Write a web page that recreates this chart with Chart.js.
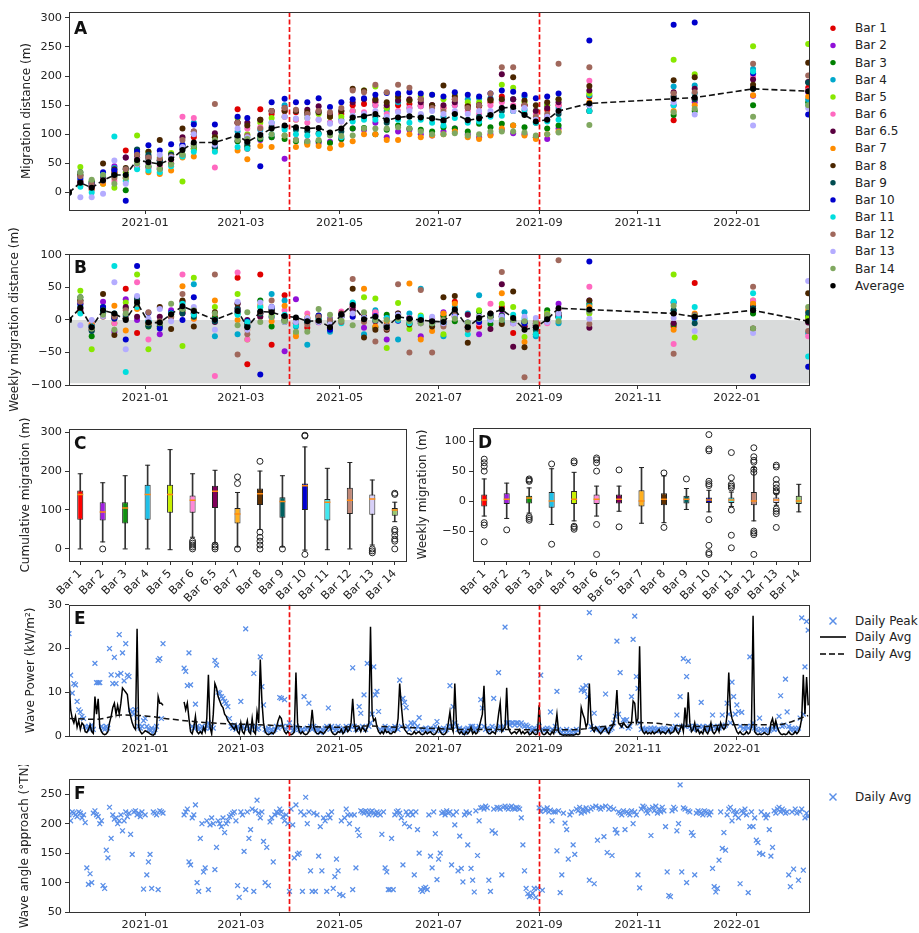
<!DOCTYPE html>
<html>
<head>
<meta charset="utf-8">
<title>Bar migration and wave conditions</title>
<script src="https://cdn.jsdelivr.net/npm/chart.js@4.4.1/dist/chart.umd.min.js"></script>
<style>
  html,body{margin:0;padding:0;background:#ffffff;}
  body{position:relative;width:919px;height:933px;overflow:hidden;font-family:'DejaVu Sans',sans-serif;}
  canvas{position:absolute;}
  .leg{position:absolute;font-size:12px;line-height:16px;color:#222;white-space:nowrap;}
  svg.marks{position:absolute;left:0;top:0;}
</style>
</head>
<body>
<svg class="marks" id="marks" width="919" height="933"></svg>
<script>
// ---------------- shared categories / axes ----------------
const surveyDays = [-47, -40, -33, -26, -19, -12, -5, 2, 9, 16, 23, 30, 43, 57, 63, 71, 78, 86, 93, 100, 107, 114, 121, 128, 135, 142, 149, 156, 163, 170, 177, 184, 191, 199, 206, 213, 220, 227, 234, 241, 248, 255, 274, 326, 339, 375, 409];
const barNames = ['Bar 1','Bar 2','Bar 3','Bar 4','Bar 5','Bar 6','Bar 6.5','Bar 7','Bar 8','Bar 9','Bar 10','Bar 11','Bar 12','Bar 13','Bar 14'];
const barColors = ['#e00000','#9010d8','#008000','#00a8cc','#88e800','#ff69c0','#5a0040','#ff8c00','#4a2600','#004c50','#0000cc','#00dede','#a0685c','#b4acff','#80a860'];
const boxColors = ['#ff0000','#a020e0','#109010','#20c0e8','#c8f000','#ff88d8','#80005a','#ffb020','#603000','#006060','#0000d0','#40e8f0','#c08878','#d8d0f8','#98c870'];
const xTickDays = [0, 59, 120, 181, 243, 304, 365];
const xTickLabels = ['2021-01','2021-03','2021-05','2021-07','2021-09','2021-11','2022-01'];
const eventDays = [89, 243];
const xMinDay = -47, xMaxDay = 409.5;

// ---------------- Panel A: cumulative migration (m) ----------------
const cumBar1 = [0,20,10,25,35,72,60,58,55,65, 80,95,78,143,75,143,135,140,138,135, 140,130,135,150,152,155,145,150,152,150, 148,145,160,150,148,155,165,160,150,140, 142,150,165,124,160,180,180];
const cumBar2 = [0,15,5,18,45,60,45,42,40,50, 62,75,78,88,80,90,95,58,90,88, 85,87,92,110,108,120,95,105,108,100, 98,105,110,100,95,100,108,102,100,95, 92,110,140,150,155,166,172];
const cumBar3 = [0,30,18,25,28,4,55,45,42,50, 65,75,78,88,80,92,95,92,88,85, 88,85,92,110,111,100,108,115,110,108, 105,112,110,105,118,112,118,115,112,95, 110,115,140,133,140,150,155];
const cumBar4 = [0,22,12,32,42,30,60,58,52,62, 80,120,78,105,95,108,120,150,140,135, 138,120,125,140,135,150,140,155,145,148, 150,130,150,160,162,162,158,160,165,140, 150,145,167,182,184,212,160];
const cumBar5 = [0,44,20,15,8,35,98,70,60,68, 19,75,95,128,100,120,128,130,125,128, 135,130,130,140,175,182,145,160,158,165, 168,160,170,155,155,160,185,180,155,140, 150,160,170,228,203,251,255];
const cumBar6 = [0,15,10,25,20,25,58,50,45,55, 130,128,43,120,110,112,115,130,125,120, 125,120,122,140,138,150,135,140,145,148, 150,145,150,140,135,150,155,150,140,135, 130,150,192,165,170,200,175];
const cumBar65 = [0,18,10,28,32,60,65,62,55,60, 95,105,102,120,120,125,140,145,140,142, 148,135,140,155,160,158,150,158,160,155, 150,150,155,145,150,160,203,160,150,140, 145,155,175,172,178,194,190];
const cumBar7 = [0,12,5,15,35,25,42,35,32,38, 60,62,72,72,57,80,78,98,78,82, 80,76,82,88,100,100,90,90,100,95, 98,100,105,95,92,98,110,115,98,92, 100,105,155,140,150,167,165];
const cumBar8 = [0,30,15,50,40,42,73,70,90,65, 110,100,95,120,115,125,140,140,140,138, 138,130,140,178,175,160,155,165,158,160, 150,184,165,148,150,158,160,198,158,150, 155,160,183,193,198,185,223];
const cumBar9 = [0,35,18,30,32,40,74,65,55,65, 75,80,78,95,85,95,112,112,108,105, 102,100,105,130,130,130,120,128,130,132, 128,122,136,125,130,135,140,140,135,120, 125,135,150,165,160,178,189];
const cumBar10 = [0,25,15,35,38,-14,70,81,72,83, 82,117,117,130,128,45,155,161,155,155, 162,147,155,160,162,168,171,170,172,170, 168,165,172,168,165,170,175,173,168,162, 165,170,261,288,292,205,134];
const cumBar11 = [0,10,0,30,96,20,40,38,35,45, 62,70,70,78,75,95,100,108,100,98, 100,100,95,122,125,125,125,125,120,125, 120,115,128,120,122,130,132,140,142,120, 122,125,140,150,170,208,150];
const cumBar12 = [0,28,15,20,25,40,65,60,58,62, 90,105,152,120,98,110,140,145,142,135, 140,138,145,175,172,185,172,185,180,160, 145,140,160,145,150,170,215,215,150,130, 135,221,215,170,172,221,201];
const cumBar13 = [0,-8,-8,-2,55,15,48,50,65,60, 78,100,82,110,95,100,120,130,127,128, 125,118,122,132,135,140,130,138,140,135, 140,135,140,135,140,140,145,140,145,125, 130,140,150,155,134,115,145];
const cumBar14 = [0,35,22,30,15,25,50,45,40,48, 65,80,90,90,92,95,100,98,90,88, 90,98,97,98,110,110,110,112,110,105, 100,100,102,98,100,105,105,105,103,98, 100,103,116,138,144,130,150];
const cumAverage = [0,17,8,21,30,30,56,52,49,57, 73,86,86,98,87,99,110,115,112,110, 111,103,110,129,131,135,124,129,131,129, 127,124,135,124,127,133,145,147,133,122, 125,140,153,161,163,178,174];
const cumSeries = [cumBar1,cumBar2,cumBar3,cumBar4,cumBar5,cumBar6,cumBar65,cumBar7,cumBar8,cumBar9,cumBar10,cumBar11,cumBar12,cumBar13,cumBar14];

// ---------------- Panel B: weekly migration (m) ----------------
const wkBar1 = [0,25,-10,15,8,48,-20,-5,-3,10, 12,15,5,65,-68,70,-38,38,-5,-12, 5,-10,8,20,5,8,-10,5,3,-2, -3,5,28,-10,-10,5,20,-20,-10,-8, 3,8,15,-10,57,20,0];
const wkBar2 = [0,15,-15,28,-18,32,0,-8,-22,15, 10,12,2,25,-8,10,5,-48,32,-3, -3,2,5,20,-12,12,-30,10,3,-25, -2,12,5,-12,-22,5,8,-5,-2,-5, -3,25,30,10,5,11,6];
const wkBar3 = [0,30,-25,10,5,18,25,-10,-3,8, 15,10,3,10,-8,30,-10,-3,-4,-3, 3,-3,7,18,1,-11,8,7,-5,-2, -3,7,-2,-5,13,-6,6,-3,-3,-22, 15,5,25,-7,7,10,5];
const wkBar4 = [0,22,-10,20,10,5,30,-2,-6,10, 18,55,-25,-22,-10,13,40,30,-10,-38, 3,-18,5,15,-22,15,-10,-30,10,48, 2,-25,20,10,38,0,-4,2,12,-25, 10,-5,22,15,2,28,-20];
const wkBar5 = [0,45,-45,20,-5,27,70,-45,-10,8, -40,65,20,40,-30,20,8,2,-20,3, 7,-5,0,10,35,33,-43,26,-14,7, 3,-22,10,-15,15,5,25,20,-26,-15, 10,10,10,70,-27,30,4];
const wkBar6 = [0,15,-5,15,-5,5,58,-30,-5,10, 70,2,-86,73,-30,5,3,15,-5,10, -4,0,13,18,0,12,-15,5,3,3, 2,-5,5,-10,-5,25,5,-5,-10,-5, -5,16,51,-37,5,30,-25];
const wkBar65 = [0,18,-8,18,4,20,5,-3,5,5, 28,10,-3,18,0,5,15,5,-5,2, 6,-13,5,15,5,-2,-8,8,2,-5, -5,0,5,8,5,-14,55,-41,-10,-10, 5,10,-12,-5,6,22,-4];
const wkBar7 = [0,12,-7,10,22,-16,17,-7,-3,6, 52,2,30,0,-15,23,-2,22,-25,4, -2,-4,6,6,48,-10,-2,0,56,-30, -17,10,25,-10,-3,6,41,5,-34,-6, 8,5,20,-15,10,25,15];
const wkBar8 = [0,30,-15,40,-23,2,31,-3,20,-14, 30,-10,12,25,-5,10,15,0,0,-2, 0,-8,10,48,-27,-15,-15,10,-7,2, -10,35,37,-35,2,8,-6,44,-42,-8, 5,5,30,10,5,-13,41];
const wkBar9 = [0,35,-17,12,2,8,34,-9,-10,10, 10,5,-2,17,-10,10,17,0,-4,-3, -3,-2,5,25,0,0,-10,8,2,2, -4,-6,14,-11,5,5,5,0,-5,-15, 5,10,15,15,-5,18,11];
const wkBar10 = [0,25,-10,20,3,-30,83,11,-13,11, 0,35,0,13,-2,-84,20,6,-6,0, 7,-15,8,5,2,6,3,-1,2,-2, -2,-3,7,-4,-3,5,5,-2,-5,-6, 3,5,90,27,4,-87,-72];
const wkBar11 = [0,10,-10,15,83,-80,20,-2,-3,10, 25,8,0,8,-3,20,5,8,-8,-2, 2,0,-5,27,3,0,3,0,-5,5, -5,-5,13,-22,2,8,2,8,2,-22, 2,3,15,28,20,41,-56];
const wkBar12 = [0,28,-13,5,5,15,25,12,-2,4, 40,15,70,-53,-22,12,30,5,-3,-7, 5,0,-3,63,-3,-33,-13,55,-50,46, -50,-10,13,-15,5,10,74,0,-88,-2, 5,92,-6,-52,8,51,-17];
const wkBar13 = [0,-8,0,6,58,-45,37,2,17,-2, 18,20,-15,28,-15,27,20,-3,-3,3, -3,-7,4,10,3,5,-10,8,2,-5, 5,-5,5,-5,5,0,5,-5,5,3, -3,10,2,3,-17,-20,60];
const wkBar14 = [0,35,-13,8,-15,10,25,-5,-5,25, 17,15,10,-8,12,-3,5,-2,-18,-18, 17,8,-1,-8,12,0,0,2,-2,-5, -5,0,2,-4,2,5,0,0,-2,-5, 8,-2,13,22,6,-13,20];
const wkAverage = [0,19,-11,15,10,0,27,-4,-4,9, 21,14,0,14,-11,13,12,6,4,-2, -1,-11,8,23,1,5,-11,5,2,0, -2,-3,16,-11,3,10,16,3,-15,-11, 1,18,16,10,5,15,-2];
const wkSeries = [wkBar1,wkBar2,wkBar3,wkBar4,wkBar5,wkBar6,wkBar65,wkBar7,wkBar8,wkBar9,wkBar10,wkBar11,wkBar12,wkBar13,wkBar14];
const bandDays = [-47, 396, 409.5];
const bandTop = [0, 0, -2.5];
const bandFloor = -97.5;

// ---------------- Panel C: cumulative migration box statistics ----------------
const cumQ1 = [75,73,65,75,93,93,105,65,113,80,100,73,90,88,85];
const cumQ3 = [150,120,120,165,165,137,162,105,155,133,168,128,157,140,105];
const cumMedian = [140,95,105,140,140,125,148,90,142,122,162,120,125,128,100];
const cumWhiskerLo = [0,18,0,0,-2,30,15,5,50,5,-3,-2,0,10,70];
const cumWhiskerHi = [193,170,188,215,255,193,202,145,200,188,262,207,222,177,120];
const cumOutlierBar = ['Bar 2','Bar 6','Bar 6','Bar 6','Bar 6','Bar 6','Bar 6.5','Bar 6.5','Bar 6.5','Bar 7','Bar 7','Bar 7','Bar 8','Bar 8','Bar 8','Bar 8','Bar 8','Bar 8','Bar 9','Bar 10','Bar 10','Bar 10','Bar 13','Bar 13','Bar 13','Bar 14','Bar 14','Bar 14','Bar 14','Bar 14','Bar 14','Bar 14','Bar 14'];
const cumOutlierVal = [0, 0,5,10,15,20, 0,5,10, 185,168,0, 225,43,30,20,10,0, 0, 290,292,-14, -10,-5,0, 143,140,50,45,35,25,20,0];

// ---------------- Panel D: weekly migration box statistics ----------------
const wkQ1 = [-9,-5,-4,-11,-5,-5,-4,-9,-7,-4,-3,-3,-7,-3,-5];
const wkQ3 = [11,13,9,15,17,11,11,18,13,9,6,6,15,6,9];
const wkMedian = [2,3,5,0,3,3,3,0,3,3,2,2,0,2,0];
const wkWhiskerLo = [-25,-29,-20,-39,-33,-25,-17,-37,-36,-14,-18,-9,-33,-7,-18];
const wkWhiskerHi = [37,30,22,54,48,25,25,56,42,21,18,15,56,13,28];
const wkOutlierBar = ['Bar 1','Bar 1','Bar 1','Bar 1','Bar 1','Bar 1','Bar 1','Bar 2','Bar 3','Bar 3','Bar 3','Bar 3','Bar 3','Bar 3','Bar 4','Bar 4','Bar 5','Bar 5','Bar 5','Bar 5','Bar 5','Bar 6','Bar 6','Bar 6','Bar 6','Bar 6','Bar 6','Bar 6.5','Bar 6.5','Bar 8','Bar 8','Bar 9','Bar 10','Bar 10','Bar 10','Bar 10','Bar 10','Bar 10','Bar 10','Bar 10','Bar 10','Bar 10','Bar 11','Bar 11','Bar 11','Bar 11','Bar 11','Bar 11','Bar 11','Bar 11','Bar 12','Bar 12','Bar 12','Bar 12','Bar 12','Bar 12','Bar 12','Bar 12','Bar 12','Bar 12','Bar 13','Bar 13','Bar 13','Bar 13','Bar 13','Bar 13','Bar 13','Bar 13','Bar 13','Bar 13','Bar 13'];
const wkOutlierVal = [70,64,58,50,-36,-40,-68, -48, 37,35,33,-26,-29,-32, 62,-72, 67,64,-42,-44,-47, 72,69,64,50,-39,-89, 52,-43, 47,-44, 37, 111,87,84,33,29,26,-31,-74,-86,-89, 81,39,28,25,22,-15,-57,-78, 89,74,68,65,53,48,-50,-53,-56,-89, 60,57,36,28,22,17,15,-13,-17,-21,-44];

// ---------------- Panel E: wave power (kW/m2), one value per day from 2020-11-15 ----------------
const waveStartDay = -47;
const waveAvg = [
 14,6,4,3,4.5,2,3.5,1.5,3,2.5,
 1,0.8,1.5,2.5,1,0.6,9,5,8.5,2,
 1,0.5,0.3,0.5,1,3,4.5,6.5,7.5,5,
 7,5,7.5,11,10.5,10,9.5,6,4.5,3,
 2,1.5,24.5,2,1,0.5,0.8,1.2,1,0.8,
 0.5,0.3,0.2,0.5,1.5,9,7.5,7.5,7,null,
 null,null,null,null,null,null,null,null,null,null,
 null,7.8,6,7.5,4,1,0.5,2,4.5,1,
 0.5,1,0.5,2,1,4,14,2,0.5,5,
 12,11,9,8,7,6.5,5,4.5,3.5,3,
 2.5,2,1.5,2.5,1,0.5,3,1,0.5,2,
 3.5,1,0.5,4,1,0.5,5.5,3,17.5,8,
 3,1,0.5,0.3,0.5,0.8,0.5,1,2,3.5,
 4.5,4,2,1,0.5,1,0.5,0.3,0.5,1,
 14.5,3,1,0.5,1,0.5,0.3,0.5,1,2,
 6,2,1,0.5,0.5,1,0.8,0.5,1,1.5,
 2,2.5,1,0.5,0.3,0.5,1,0.8,1.5,0.5,
 1,2,1,1.5,3,8.5,3,1,1.5,2,
 1,2,1.5,1,2,3,25,5,3.5,4,
 2,1,0.5,1,0.5,1.5,0.8,1,0.5,0.5,
 1,0.8,1.5,4,12,7,3,1.5,1,0.5,
 0.5,0.3,0.5,1,0.5,0.8,1,0.5,0.3,0.5,
 1,0.5,0.8,1,0.5,0.3,0.5,1,2,1,
 0.5,0.3,0.5,1,3,5.5,2,1,12,3,
 1,0.5,1,0.5,0.3,1,0.5,1,2,0.5,
 1,0.5,0.8,2,3.5,5,11.5,2,1,0.5,
 0.5,1,0.8,0.5,2,5,7.5,1,1.5,2,
 11,2,1,0.5,0.8,1,0.5,1,1.5,0.5,
 1,0.5,0.8,1,0.3,0.5,1,0.5,0.3,0.5,
 7,1.5,0.5,0.3,0.5,1,0.5,0.3,1,0.5,
 2,5,1,0.5,0.3,0.2,0.3,0.2,0.3,0.2,
 0.3,0.2,0.3,0.5,0.3,0.5,6.5,5,4,2,
 3,12,4,1.5,1,2,1.5,1,0.5,1,
 1.5,2,1,0.5,1.5,2,3,5,10.5,3,
 2.5,2,3,2.5,2,2,2.5,3,8,7.5,
 3,4,20.5,2,1,0.5,1,0.5,0.8,0.5,
 1,0.5,0.8,1,1.5,0.5,1,0.8,0.5,1,
 1.5,0.5,0.8,1,2,1,0.5,1.5,2.5,1,
 6.5,2,10,3,1,1.5,3,1,1.5,0.5,
 1,0.5,2,1,0.5,1.5,3,1,0.5,1,
 2,1,3,2,1.5,2,5,14.5,6,4,
 3,2,1,0.5,1,0.5,0.3,0.5,1,0.5,
 0.8,2,27.5,1,0.5,0.3,0.5,0.3,0.5,0.8,
 0.5,0.3,0.5,3,4,2,3.5,2,1,0.5,
 0.3,0.5,0.3,0.5,1,0.5,0.3,0.5,1,0.5,
 1,2,4,14,5,13.5,7];
const wavePeak = [
 23.4,13.9,9.8,12,11.7,7.9,6,5.5,4.5,4,
 2.2,1.8,2.2,1.5,2.5,1.5,16.6,12.2,12.2,12.2,
 2.2,1.8,1.5,2.2,1.8,20,14,12,18,12,
 13.9,23.2,14.3,19,12.6,21.1,13.9,13.6,6,5.5,
 5,6,4,2.2,1.8,2.2,3.5,4,2.2,1.5,
 1.2,1.8,0.8,1.5,2.2,17.3,17.7,4,21.1,null,
 null,null,null,null,null,null,null,null,null,null,
 null,15.5,14.8,11.5,19,11.7,2.2,1.8,7.3,2.2,
 1.5,1.8,2.2,1.5,1.8,2.2,3,1.8,2.2,1.8,
 17.3,16.2,10,9.8,9,8.6,7.9,7.5,6.7,4,
 2.2,1.8,2.5,1.5,2.2,1.8,7.9,2.2,1.8,24.5,
 2.2,1.8,1.5,2.2,14.3,2.2,1.5,1.8,18.1,11.3,
 7.1,1.5,1.2,1.8,0.8,1.5,1.2,1.5,2.2,1.8,
 8.8,8.6,2.2,8.3,1.5,2.2,3,1.8,1.2,1.5,
 2.2,1.8,1.5,1.2,1.5,9,1.5,1.8,7.5,2.2,
 1.5,2.2,1.8,1.2,1.5,0.8,1.5,1.2,1.8,2.2,
 6.4,1.5,2.2,1.8,1.2,1.5,2.2,1.8,1.5,1.2,
 1.5,2.2,1.8,1.5,2.2,15.6,2.2,1.5,1.8,6.7,
 5.2,2.2,9.4,1.5,16.6,2.2,3,5,15.8,9.4,
 10.2,5.6,1.5,1.2,1.5,2.2,1.8,1.2,1.5,1.8,
 1.5,2.2,1.8,1.5,12.8,2.2,8.6,7.7,6.5,2.2,
 1.5,3,2.5,3,1.5,2.2,4.2,1.5,1.2,1.5,
 1.8,1.2,1.5,1.8,1.2,1.5,2.2,3.3,1.5,1.2,
 1.5,1.8,1.2,1.5,2.2,11.5,2.2,6.7,3,2.2,
 1.5,1.8,1.2,1.5,0.8,1.5,1.8,1.5,2.2,2.2,
 1.5,1.8,1.5,2.2,8.3,6.4,2.2,1.5,1.8,1.2,
 1.5,2.2,8.6,1.5,1.8,14.5,2.2,1.5,2.2,24.9,
 3,3,2.5,3,3,2.5,3,3,2.5,3,
 2.5,2.2,2.5,2.2,1.8,1.2,1.5,1.8,1.5,1.2,
 2.2,13.9,1.5,1.2,1.5,1.8,1.5,5.5,1.5,1.2,
 2.2,10.2,1.5,1.2,0.8,1.2,0.8,1.5,0.8,1.2,
 0.8,1.2,0.8,1.5,1.2,17.9,10.5,11,10.2,11.5,
 9,28.2,2.2,1.5,5.2,1.5,1.8,1.5,1.2,1.5,
 1.8,9.6,1.5,1.2,1.5,1.8,3,4.5,21.7,5,
 14.5,2.2,3.7,3.5,3.7,1.8,2.2,9,22.1,27.4,
 13.6,10.9,3,1.5,1.8,1.5,1.5,1.2,1.5,1.8,
 1.5,1.8,1.2,1.5,1.5,1.2,1.5,1.8,1.5,1.2,
 1.5,1.2,1.5,1.8,2.2,4.8,1.5,9,2.2,17.7,
 2.2,13.6,17.1,2.2,1.8,1.5,2.2,1.8,1.5,2.2,
 7.7,2.2,1.8,1.5,2.2,1.8,1.5,4.8,2.2,1.8,
 2.2,1.8,2.2,4.8,2.2,2.5,7.5,5,3,12.3,
 9,5,7.1,5.6,2.2,5.4,1.8,1.5,2.2,1.8,
 18.1,2.2,3,1.8,1.5,1.2,4.1,1.5,1.2,1.5,
 1.2,1.5,1.2,1.5,1.8,1.5,2.2,1.5,4.5,9.2,
 2.2,2.5,13,5.5,2.2,1.5,1.8,1.5,1.2,1.5,
 1.8,4.1,27,5,15.8,26.2,24.2];
const trendDays = [-47,-30,-15,0,15,30,45,60,75,90,105,120,135,150,165,180,195,210,225,240,255,270,285,300,315,330,345,360,375,390,409];
const trendAvg = [4,3.8,4.8,4.6,3.9,3.3,2.9,2.7,2.5,2.2,2.1,2,2.3,2.1,1.9,1.7,1.5,1.5,1.5,1.4,1.4,1.6,2.3,3.1,2.9,2.3,2.2,2.6,2.6,2.6,4.7];

// ---------------- Panel F: daily mean wave approach angle (deg TN) ----------------
const waveAngle = [
 215,205,220,218,215,212,220,218,210,215,
 202,125,97,115,100,218,222,215,212,200,
 205,95,90,155,142,228,175,215,208,210,
 200,205,215,188,205,220,212,218,182,148,
 220,222,215,218,212,220,89,215,113,135,
 148,90,220,218,215,88,222,220,218,null,
 null,null,null,null,null,null,null,null,null,null,
 null,215,220,225,135,130,210,215,232,100,
 85,175,200,118,125,205,88,198,210,200,
 122,160,205,200,195,210,185,200,205,212,
 215,218,220,205,95,75,220,215,153,88,
 220,175,190,225,85,222,240,218,210,220,
 170,100,160,95,203,210,135,215,220,218,
 225,220,212,205,215,200,85,225,198,142,
 232,148,150,220,85,215,245,200,220,120,
 85,218,85,215,145,195,120,210,205,85,
 215,210,220,90,110,140,120,80,205,78,
 210,225,215,200,215,88,215,125,190,180,
 222,220,218,222,220,215,220,222,218,215,
 220,218,215,182,220,125,118,88,88,175,
 88,215,220,222,218,210,130,200,220,215,
 195,220,215,113,220,190,150,88,85,90,
 92,88,215,145,125,220,183,105,140,150,
 218,220,215,222,218,220,130,215,198,220,
 120,179,124,101,215,220,164,218,124,104,
 84,222,146,205,227,228,225,230,227,104,
 85,188,225,184,228,227,225,113,228,230,
 227,225,228,230,226,225,228,227,225,210,
 164,120,90,81,76,78,82,90,75,90,
 227,221,87,225,222,227,220,223,205,220,
 220,154,222,83,113,218,201,190,140,215,
 220,164,148,225,222,228,218,225,220,227,
 222,104,225,228,98,230,172,227,225,228,
 178,230,151,225,228,146,225,190,184,220,
 218,215,222,190,220,218,215,222,200,220,
 215,113,91,225,230,228,222,218,225,180,
 228,222,230,218,225,220,228,222,195,118,
 78,76,222,228,225,188,200,266,118,227,
 225,100,222,220,185,180,113,218,222,220,
 218,215,222,220,218,215,220,124,93,84,
 90,138,220,158,185,155,215,225,228,205,
 222,215,220,210,98,222,218,225,215,83,
 195,220,195,210,172,168,150,220,148,215,
 210,215,190,145,160,222,218,225,228,220,
 225,222,218,220,113,93,220,123,225,218,
 104,220,225,121,210,218,212];

// ---------------- tick values ----------------
const yTicksA = [0,50,100,150,200,250,300];
const yTicksB = [-100,-50,0,50,100];
const yTicksC = [0,100,200,300];
const yTicksD = [-50,0,50,100];
const yTicksE = [0,10,20,30];
const yTicksF = [50,100,150,200,250];

// =====================================================================
const FONT = "'DejaVu Sans', 'Liberation Sans', sans-serif";
Chart.defaults.font.family = FONT;
Chart.defaults.font.size = 11.3;
Chart.defaults.color = '#222';
Chart.defaults.animation = false;

const INK = '#333';
const PEAK_BLUE = '#5a8fe8';

const framePlugin = {
  id: 'frame',
  afterDatasetsDraw(chart, args, opts) {
    const ctx = chart.ctx, a = chart.chartArea;
    ctx.save();
    if (opts.events) {
      const xs = chart.scales.x;
      ctx.strokeStyle = '#f01010';
      ctx.lineWidth = 1.7;
      ctx.setLineDash([5, 2.5]);
      opts.events.forEach(d => {
        const px = Math.round(xs.getPixelForValue(d)) + 0.5;
        ctx.beginPath(); ctx.moveTo(px, a.top); ctx.lineTo(px, a.bottom); ctx.stroke();
      });
      ctx.setLineDash([]);
    }
    ctx.strokeStyle = INK;
    ctx.lineWidth = 1;
    ctx.strokeRect(Math.round(a.left) + 0.5, Math.round(a.top) + 0.5, Math.round(a.right - a.left), Math.round(a.bottom - a.top));
    if (opts.letter) {
      ctx.fillStyle = '#111';
      ctx.font = 'bold 17px ' + FONT;
      ctx.textBaseline = 'alphabetic';
      ctx.textAlign = 'left';
      ctx.fillText(opts.letter, a.left + 5, a.top + (opts.letterDy || 20));
    }
    ctx.restore();
  }
};

const fmt = v => (v < 0 ? '\u2212' + Math.abs(v) : String(v));

function makeCanvas(left, top, w, h) {
  const c = document.createElement('canvas');
  c.width = w; c.height = h;
  c.style.left = left + 'px'; c.style.top = top + 'px';
  c.style.width = w + 'px'; c.style.height = h + 'px';
  document.body.appendChild(c);
  return c;
}

function yAxis(o) {
  return {
    type: 'linear', min: o.min, max: o.max, bounds: 'data',
    afterBuildTicks: s => { s.ticks = o.ticks.map(v => ({ value: v })); },
    afterFit: s => { s.width = o.width; },
    ticks: { padding: 3, color: '#222', callback: v => fmt(v) },
    grid: { drawOnChartArea: false, drawTicks: true, tickLength: 4, color: INK },
    border: { display: false },
    title: { display: true, text: o.title, color: '#222', font: { size: 12 }, padding: { top: o.tpad, bottom: 0 } }
  };
}

function timeAxis(h) {
  return {
    type: 'linear', min: xMinDay, max: xMaxDay, bounds: 'data',
    afterBuildTicks: s => { s.ticks = xTickDays.map(v => ({ value: v })); },
    afterFit: s => { s.height = h; },
    ticks: { padding: 2, maxRotation: 0, autoSkip: false, color: '#222',
      callback: v => { const k = xTickDays.indexOf(v); return k >= 0 ? xTickLabels[k] : ''; } },
    grid: { drawOnChartArea: false, drawTicks: true, tickLength: 4, color: INK },
    border: { display: false }
  };
}

function catAxis(h) {
  return {
    type: 'category', offset: true,
    afterFit: s => { s.height = h; },
    ticks: { padding: 2, minRotation: 45, maxRotation: 45, autoSkip: false, color: '#222' },
    grid: { offset: false, drawOnChartArea: false, drawTicks: true, tickLength: 4, color: INK },
    border: { display: false }
  };
}

function baseOptions(pad, scales, frame) {
  return {
    responsive: false, maintainAspectRatio: false, devicePixelRatio: 1, animation: false,
    layout: { padding: pad },
    plugins: { legend: { display: false }, tooltip: { enabled: false }, frame: frame },
    scales: scales
  };
}

const pts = (xs, ys) => xs.map((x, i) => ({ x: x, y: ys[i] }));
const dailyPts = ys => ys.map((y, i) => ({ x: waveStartDay + i, y: y }));

// ---------------- Panel A ----------------
{
  const ds = barNames.map((name, i) => ({
    type: 'scatter', label: name, data: pts(surveyDays, cumSeries[i]),
    backgroundColor: barColors[i], borderWidth: 0, pointRadius: 3, order: 40 - i
  }));
  ds.push({ type: 'line', label: 'Average', data: pts(surveyDays, cumAverage), borderColor: '#111', borderWidth: 1.6,
    borderDash: [6, 3], pointRadius: 3, pointBackgroundColor: '#000', pointBorderWidth: 0, tension: 0, order: 1 });
  new Chart(makeCanvas(0, 0, 815, 240), {
    type: 'scatter', data: { datasets: ds },
    options: baseOptions({ left: 0, top: 12, right: 6, bottom: 8 },
      { x: timeAxis(22), y: yAxis({ min: -30, max: 310, ticks: yTicksA, width: 69, title: 'Migration distance (m)', tpad: 19.5 }) },
      { letter: 'A', letterDy: 21.5, events: eventDays }),
    plugins: [framePlugin]
  });
}

// ---------------- Panel B ----------------
{
  const ds = [{ type: 'line', label: 'band', data: pts(bandDays, bandTop), fill: { value: bandFloor },
    backgroundColor: '#d9dbdb', borderWidth: 0, pointRadius: 0, cubicInterpolationMode: 'monotone', order: 100 }];
  barNames.forEach((name, i) => ds.push({
    type: 'scatter', label: name, data: pts(surveyDays, wkSeries[i]),
    backgroundColor: barColors[i], borderWidth: 0, pointRadius: 3, order: 40 - i
  }));
  ds.push({ type: 'line', label: 'Average', data: pts(surveyDays, wkAverage), borderColor: '#111', borderWidth: 1.6,
    borderDash: [6, 3], pointRadius: 3, pointBackgroundColor: '#000', pointBorderWidth: 0, tension: 0, order: 1 });
  new Chart(makeCanvas(0, 225, 815, 190), {
    type: 'scatter', data: { datasets: ds },
    options: baseOptions({ left: 0, top: 29, right: 6, bottom: 8 },
      { x: timeAxis(22), y: yAxis({ min: -100, max: 101.5, ticks: yTicksB, width: 69, title: 'Weekly migration distance (m)', tpad: 7.8 }) },
      { letter: 'B', letterDy: 19, events: eventDays }),
    plugins: [framePlugin]
  });
}

// ---------------- box plot builder (C, D) ----------------
function boxDatasets(q1, q3, med, lo, hi, outBar, outVal) {
  return [
    { type: 'bar', label: 'whisker', data: lo.map((v, i) => [v, hi[i]]), backgroundColor: '#333',
      barThickness: 1, grouped: false, order: 5 },
    { type: 'bar', label: 'box', data: q1.map((v, i) => [v, q3[i]]), backgroundColor: boxColors,
      borderColor: '#222', borderWidth: 1, borderSkipped: false, barPercentage: 0.27, categoryPercentage: 1, grouped: false, order: 4 },
    { type: 'line', label: 'capLo', data: lo, showLine: false, pointStyle: 'line', pointRadius: 2.5,
      pointBorderColor: '#222', pointBorderWidth: 1, order: 3 },
    { type: 'line', label: 'capHi', data: hi, showLine: false, pointStyle: 'line', pointRadius: 2.5,
      pointBorderColor: '#222', pointBorderWidth: 1, order: 3 },
    { type: 'line', label: 'median', data: med, showLine: false, pointStyle: 'line', pointRadius: 3,
      pointBorderColor: '#ff8a10', pointBorderWidth: 1.5, order: 2 },
    { type: 'line', label: 'outliers', data: outBar.map((b, i) => ({ x: b, y: outVal[i] })), showLine: false,
      pointStyle: 'circle', pointRadius: 3, pointBackgroundColor: 'rgba(255,255,255,0)', pointBorderColor: '#222',
      pointBorderWidth: 1, order: 1 }
  ];
}

// ---------------- Panel C ----------------
new Chart(makeCanvas(0, 415, 420, 200), {
  type: 'bar',
  data: { labels: barNames, datasets: boxDatasets(cumQ1, cumQ3, cumMedian, cumWhiskerLo, cumWhiskerHi, cumOutlierBar, cumOutlierVal) },
  options: baseOptions({ left: 0, top: 14, right: 14, bottom: 6 },
    { x: catAxis(48), y: yAxis({ min: -31, max: 308, ticks: yTicksC, width: 69, title: 'Cumulative migration (m)', tpad: 18.8 }) },
    { letter: 'C', letterDy: 19.5 }),
  plugins: [framePlugin]
});

// ---------------- Panel D ----------------
new Chart(makeCanvas(410, 415, 420, 200), {
  type: 'bar',
  data: { labels: barNames, datasets: boxDatasets(wkQ1, wkQ3, wkMedian, wkWhiskerLo, wkWhiskerHi, wkOutlierBar, wkOutlierVal) },
  options: baseOptions({ left: 0, top: 13, right: 20, bottom: 6 },
    { x: catAxis(48), y: yAxis({ min: -100, max: 122, ticks: yTicksD, width: 63, title: 'Weekly migration (m)', tpad: 5.8 }) },
    { letter: 'D', letterDy: 20 }),
  plugins: [framePlugin]
});

// ---------------- Panel E ----------------
new Chart(makeCanvas(0, 595, 815, 170), {
  type: 'scatter',
  data: { datasets: [
    { type: 'scatter', label: 'Daily Peak', data: dailyPts(wavePeak), pointStyle: 'crossRot', pointRadius: 3.4,
      borderColor: PEAK_BLUE, pointBorderColor: PEAK_BLUE, pointBorderWidth: 1.3, order: 3 },
    { type: 'line', label: 'Daily Avg', data: dailyPts(waveAvg), borderColor: '#000', borderWidth: 1.5,
      pointRadius: 0, spanGaps: false, tension: 0, order: 2 },
    { type: 'line', label: 'Daily Avg (trend)', data: pts(trendDays, trendAvg), borderColor: '#111', borderWidth: 1.5,
      borderDash: [6, 3.5], pointRadius: 0, cubicInterpolationMode: 'monotone', order: 1 }
  ] },
  options: baseOptions({ left: 0, top: 9, right: 6, bottom: 7 },
    { x: timeAxis(22), y: yAxis({ min: 0, max: 30, ticks: yTicksE, width: 69, title: 'Wave Power (kW/m\u00B2)', tpad: 23.8 }) },
    { letter: 'E', letterDy: 19, events: eventDays }),
  plugins: [framePlugin]
});

// ---------------- Panel F ----------------
new Chart(makeCanvas(0, 765, 815, 168), {
  type: 'scatter',
  data: { datasets: [
    { type: 'scatter', label: 'Daily Avg', data: dailyPts(waveAngle), pointStyle: 'crossRot', pointRadius: 3.4,
      borderColor: PEAK_BLUE, pointBorderColor: PEAK_BLUE, pointBorderWidth: 1.3, order: 1 }
  ] },
  options: baseOptions({ left: 0, top: 14, right: 6, bottom: 0 },
    { x: timeAxis(21), y: yAxis({ min: 50, max: 276, ticks: yTicksF, width: 69, title: 'Wave angle approach (\u00B0TN)', tpad: 17.8 }) },
    { letter: 'F', letterDy: 19.5, events: eventDays }),
  plugins: [framePlugin]
});

// ---------------- HTML legends ----------------
const svg = document.getElementById('marks');
const NS = 'http://www.w3.org/2000/svg';
function svgEl(tag, attrs) { const e = document.createElementNS(NS, tag); for (const k in attrs) e.setAttribute(k, attrs[k]); svg.appendChild(e); return e; }
function legText(x, y, txt) { const d = document.createElement('div'); d.className = 'leg'; d.style.left = x + 'px'; d.style.top = (y - 8) + 'px'; d.textContent = txt; document.body.appendChild(d); }
function legCross(cx, cy) {
  svgEl('line', { x1: cx - 3.5, y1: cy - 3.5, x2: cx + 3.5, y2: cy + 3.5, stroke: PEAK_BLUE, 'stroke-width': 1.5 });
  svgEl('line', { x1: cx - 3.5, y1: cy + 3.5, x2: cx + 3.5, y2: cy - 3.5, stroke: PEAK_BLUE, 'stroke-width': 1.5 });
}
const legNames = barNames.concat(['Average']);
const legColors = barColors.concat(['#000']);
legNames.forEach((n, k) => {
  const y = 28.3 + 17.16 * k;
  svgEl('circle', { cx: 833, cy: y, r: 2.7, fill: legColors[k] });
  legText(855, y, n);
});
legCross(833, 621); legText(855, 621, 'Daily Peak');
svgEl('line', { x1: 820, y1: 637, x2: 846, y2: 637, stroke: '#000', 'stroke-width': 1.6 }); legText(855, 637, 'Daily Avg');
svgEl('line', { x1: 820, y1: 654, x2: 846, y2: 654, stroke: '#000', 'stroke-width': 1.6, 'stroke-dasharray': '6,3' }); legText(855, 654, 'Daily Avg');
legCross(833, 797); legText(855, 797, 'Daily Avg');

// sanity checks on typed series lengths
[cumBar1,cumBar2,cumBar3,cumBar4,cumBar5,cumBar6,cumBar65,cumBar7,cumBar8,cumBar9,cumBar10,cumBar11,cumBar12,cumBar13,cumBar14,cumAverage,
 wkBar1,wkBar2,wkBar3,wkBar4,wkBar5,wkBar6,wkBar65,wkBar7,wkBar8,wkBar9,wkBar10,wkBar11,wkBar12,wkBar13,wkBar14,wkAverage].forEach((a, i) => {
  if (a.length !== surveyDays.length) throw new Error('survey series ' + i + ' has length ' + a.length);
});
[waveAvg, wavePeak, waveAngle].forEach((a, i) => { if (a.length !== 457) throw new Error('daily series ' + i + ' has length ' + a.length); });
if (cumOutlierBar.length !== cumOutlierVal.length || wkOutlierBar.length !== wkOutlierVal.length) throw new Error('outlier arrays mismatch');
</script>
</body>
</html>
